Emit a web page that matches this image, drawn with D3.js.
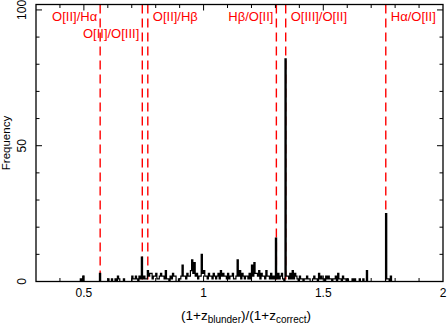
<!DOCTYPE html>
<html>
<head>
<meta charset="utf-8">
<script src="https://cdn.jsdelivr.net/npm/d3@7"></script>
<style>
  body { margin: 0; background: #fff; }
  text { font-family: "Liberation Sans", Arial, sans-serif; }
</style>
</head>
<body>
<svg id="chart"></svg>
<script>
// histogram: bins of 0.005 starting at 0.30
const binStart = 0.30, binWidth = 0.005;
const counts = [
  0,0,0,0,0,0,0,0,0,0, 0,0,0,0,0,0,0,0,0,0,
  0,0,0,0,0,0,0,0,0,0, 0,0,0,0,0,0,0,1,0,2,
  0,0,0,0,0,0,0,0,0,0, 0,0,0,3,0,0,0,0,0,0,
  1,0,0,1,0,0,1,0,2,1, 0,0,0,1,0,0,0,0,0,0,
  2,1,1,2,1,0,2,1,9,1, 2,1,1,4,2,3,3,1,2,2,
  3,1,1,2,3,2,2,1,4,1, 1,0,2,1,3,2,2,0,0,1,
  1,2,6,2,2,1,3,2,2,4, 8,3,7,2,3,1,2,2,10,3,
  4,2,2,1,3,2,2,1,3,2, 1,2,3,1,4,2,3,2,2,1,
  3,1,2,2,3,1,1,2,8,2, 4,1,3,2,1,2,2,1,3,1,
  6,2,7,3,3,2,4,1,3,2, 2,1,4,2,2,1,3,1,2,1,
  16,1,3,1,2,3,1,0,82,2, 2,1,3,1,4,1,3,2,1,0,
  2,1,1,0,1,1,2,1,1,0, 0,1,2,1,1,0,3,1,2,1,
  1,0,2,1,2,1,1,0,1,1, 2,0,3,1,1,0,2,1,1,0,
  1,0,0,0,1,0,1,0,0,0, 1,0,0,1,0,0,4,0,0,0,
  0,0,0,0,0,0,0,0,0,0, 0,0,25,1,1,0,2,0,0,0,
  0,0,0,0,0,0,0,0,0,0, 0,0,0,0,0,0,0,0,0,0,
  0,0,0,0,0,0,0,0,0,0, 0,0,0,0,0,0,0,0,0,0
];

// line ratios and their labels
const lineValues = [0.568, 0.744, 0.767, 1.304, 1.343, 1.761];
const lineLabels = ["O[II]/H\u03b1", "O[II]/O[III]", "O[II]/H\u03b2", "H\u03b2/O[II]", "O[III]/O[II]", "H\u03b1/O[II]"];
const labelSide = ["left", "left", "right", "left", "right", "right"];
const labelRow = [0, 1, 0, 0, 0, 0];

const xTicks = [0.5, 1, 1.5, 2];
const yTicks = [0, 50, 100];

const width = 447, height = 327;
const margin = {top: 4.5, right: 4, bottom: 45.5, left: 36};

const svg = d3.select("#chart").attr("width", width).attr("height", height);

const x = d3.scaleLinear().domain([0.3, 2.0]).range([margin.left, width - margin.right]);
const y = d3.scaleLinear().domain([0, 102]).range([height - margin.bottom, margin.top]);

const x0 = margin.left, x1 = width - margin.right;
const y0 = height - margin.bottom, y1 = margin.top;

// red dashed lines
svg.append("g").selectAll("line")
  .data(lineValues)
  .enter().append("line")
    .attr("x1", d => x(d)).attr("x2", d => x(d))
    .attr("y1", y1).attr("y2", y0)
    .attr("stroke", "#f00")
    .attr("stroke-width", 1.4)
    .attr("stroke-dasharray", "9,5");

// histogram as a step outline
const pts = counts.map((c, i) => [binStart + i * binWidth, c]);
pts.push([binStart + counts.length * binWidth, 0]);
const line = d3.line()
  .x(d => x(d[0]))
  .y(d => y(d[1]))
  .curve(d3.curveStepAfter);
svg.append("path")
  .attr("d", line(pts))
  .attr("fill", "none")
  .attr("stroke", "#000")
  .attr("stroke-width", 1.2);

// frame
svg.append("rect")
  .attr("x", x0).attr("y", y1)
  .attr("width", x1 - x0).attr("height", y0 - y1)
  .attr("fill", "none").attr("stroke", "#000").attr("stroke-width", 1.3);

// ticks, inward on all sides
const xMinor = d3.range(4, 20).map(d => d / 10);
const yMinor = d3.range(0, 101, 10);
const isMajorX = v => Math.abs(v * 2 - Math.round(v * 2)) < 1e-6;
const ticks = svg.append("g").attr("stroke", "#000").attr("stroke-width", 1);
xMinor.forEach(v => {
  const L = isMajorX(v) ? 6 : 3.5;
  ticks.append("line").attr("x1", x(v)).attr("x2", x(v)).attr("y1", y0).attr("y2", y0 - L);
  ticks.append("line").attr("x1", x(v)).attr("x2", x(v)).attr("y1", y1).attr("y2", y1 + L);
});
yMinor.forEach(v => {
  const L = v % 50 === 0 ? 6 : 3.5;
  ticks.append("line").attr("x1", x0).attr("x2", x0 + L).attr("y1", y(v)).attr("y2", y(v));
  ticks.append("line").attr("x1", x1).attr("x2", x1 - L).attr("y1", y(v)).attr("y2", y(v));
});

// tick labels
svg.append("g").selectAll("text")
  .data(xTicks)
  .enter().append("text")
    .attr("x", d => x(d)).attr("y", y0 + 15)
    .attr("text-anchor", "middle")
    .style("font-size", "12px")
    .text(d => d);

svg.append("g").selectAll("text")
  .data(yTicks)
  .enter().append("text")
    .attr("transform", d => `translate(26,${y(d)}) rotate(-90)`)
    .attr("text-anchor", "middle")
    .style("font-size", "12px")
    .text(d => d);

// axis titles
svg.append("text")
  .attr("transform", `translate(10,${(y0 + y1) / 2}) rotate(-90)`)
  .attr("text-anchor", "middle")
  .style("font-size", "11.5px")
  .text("Frequency");

const xt = svg.append("text")
  .attr("x", 246).attr("y", 320)
  .attr("text-anchor", "middle")
  .style("font-size", "13.5px");
xt.append("tspan").text("(1+z");
xt.append("tspan").attr("dy", 3).style("font-size", "10px").text("blunder");
xt.append("tspan").attr("dy", -3).text(")/(1+z");
xt.append("tspan").attr("dy", 3).style("font-size", "10px").text("correct");
xt.append("tspan").attr("dy", -3).text(")");

// line labels
svg.append("g").selectAll("text")
  .data(lineValues)
  .enter().append("text")
    .attr("x", (d, i) => labelSide[i] === "left" ? x(d) - 3 : x(d) + 5)
    .attr("y", (d, i) => labelRow[i] ? 38 : 21)
    .attr("text-anchor", (d, i) => labelSide[i] === "left" ? "end" : "start")
    .attr("fill", "#f00")
    .style("font-size", "13px")
    .text((d, i) => lineLabels[i]);
</script>
</body>
</html>
